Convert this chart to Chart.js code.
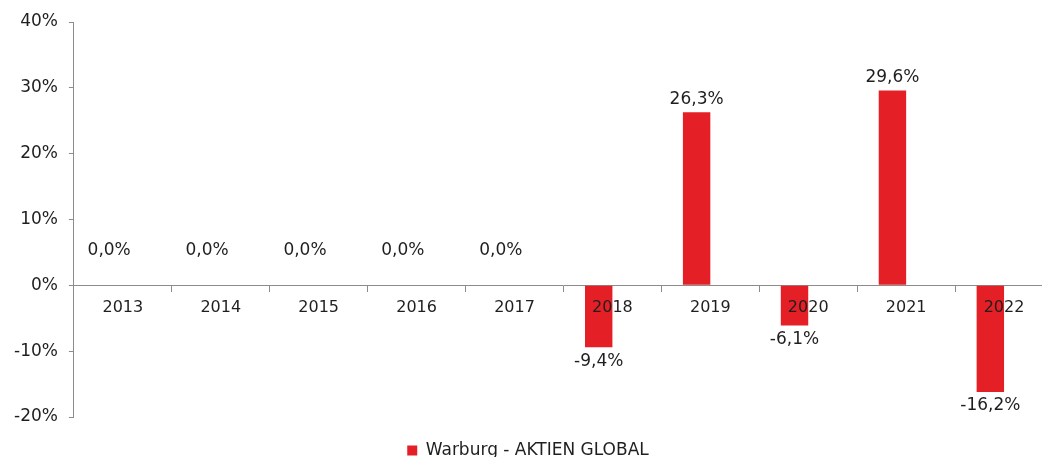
<!DOCTYPE html>
<html>
<head>
<meta charset="utf-8">
<script src="https://cdn.jsdelivr.net/npm/chart.js@4.4.0/dist/chart.umd.min.js"></script>
<style>
  html, body { margin: 0; padding: 0; background: #fff; }
  #frame { width: 1042px; height: 457px; overflow: hidden; position: relative; }
  #wrap { width: 1080px; height: 475px; position: absolute; left: 0; top: 0; }
</style>
</head>
<body>
<div id="frame"><div id="wrap"><canvas id="chart"></canvas></div></div>
<script>
// Yearly performance, in percent
const years = ['2013', '2014', '2015', '2016', '2017', '2018', '2019', '2020', '2021', '2022'];
const returns = [0.0, 0.0, 0.0, 0.0, 0.0, -9.4, 26.3, -6.1, 29.6, -16.2];
const emptySlot = years.map(() => null);
const seriesName = 'Warburg - AKTIEN GLOBAL';

const FONT = "'DejaVu Sans', Verdana, sans-serif";
const TEXT = '#1f1f1f';
const AXIS = '#8c8c8c';

const fmt = v => v.toFixed(1).replace('.', ',') + '%';

// Excel-style value labels: above positive bars, below negative ones
const valueLabels = {
  id: 'valueLabels',
  afterDatasetsDraw(chart) {
    const ctx = chart.ctx;
    const meta = chart.getDatasetMeta(0);
    ctx.save();
    ctx.font = '17px ' + FONT;
    ctx.fillStyle = TEXT;
    ctx.textAlign = 'center';
    ctx.textBaseline = 'middle';
    meta.data.forEach((bar, i) => {
      const v = returns[i];
      let y;
      if (v > 0) y = bar.y - 13;
      else if (v < 0) y = bar.y + 14;
      else y = bar.y - 35;
      ctx.fillText(fmt(v), bar.x, y);
    });
    ctx.restore();
  }
};

new Chart(document.getElementById('chart'), {
  type: 'bar',
  data: {
    labels: years,
    datasets: [
      {
        label: seriesName,
        data: returns,
        backgroundColor: '#e41f26',
        borderWidth: 0,
        categoryPercentage: 0.56,
        barPercentage: 1.0,
      },
      {
        label: '',
        data: emptySlot,
        backgroundColor: 'rgba(0,0,0,0)',
        categoryPercentage: 0.56,
        barPercentage: 1.0,
      }
    ]
  },
  options: {
    responsive: true,
    maintainAspectRatio: false,
    animation: false,
    layout: { padding: { left: 3, right: 27, top: 22, bottom: 6 } },
    scales: {
      x: {
        position: { y: 0 },
        offset: true,
        grid: {
          display: true,
          drawOnChartArea: false,
          offset: true,
          tickLength: 6,
          tickColor: AXIS,
        },
        border: { color: AXIS, width: 1 },
        ticks: { z: 1, color: TEXT, font: { family: FONT, size: 16 }, padding: 7, maxRotation: 0 },
      },
      y: {
        min: -20,
        max: 40,
        grid: {
          display: true,
          drawOnChartArea: false,
          tickLength: 5,
          tickColor: AXIS,
        },
        border: { color: AXIS, width: 1 },
        ticks: {
          stepSize: 10,
          color: TEXT,
          font: { family: FONT, size: 17 },
          padding: 11,
          callback: v => v + '%',
        },
      },
    },
    plugins: {
      legend: {
        position: 'bottom',
        labels: {
          color: TEXT,
          font: { family: FONT, size: 17 },
          boxWidth: 10,
          boxHeight: 10,
          padding: 25,
          filter: item => item.text !== '',
        },
      },
      tooltip: { enabled: false },
    },
  },
  plugins: [valueLabels],
});
</script>
</body>
</html>
